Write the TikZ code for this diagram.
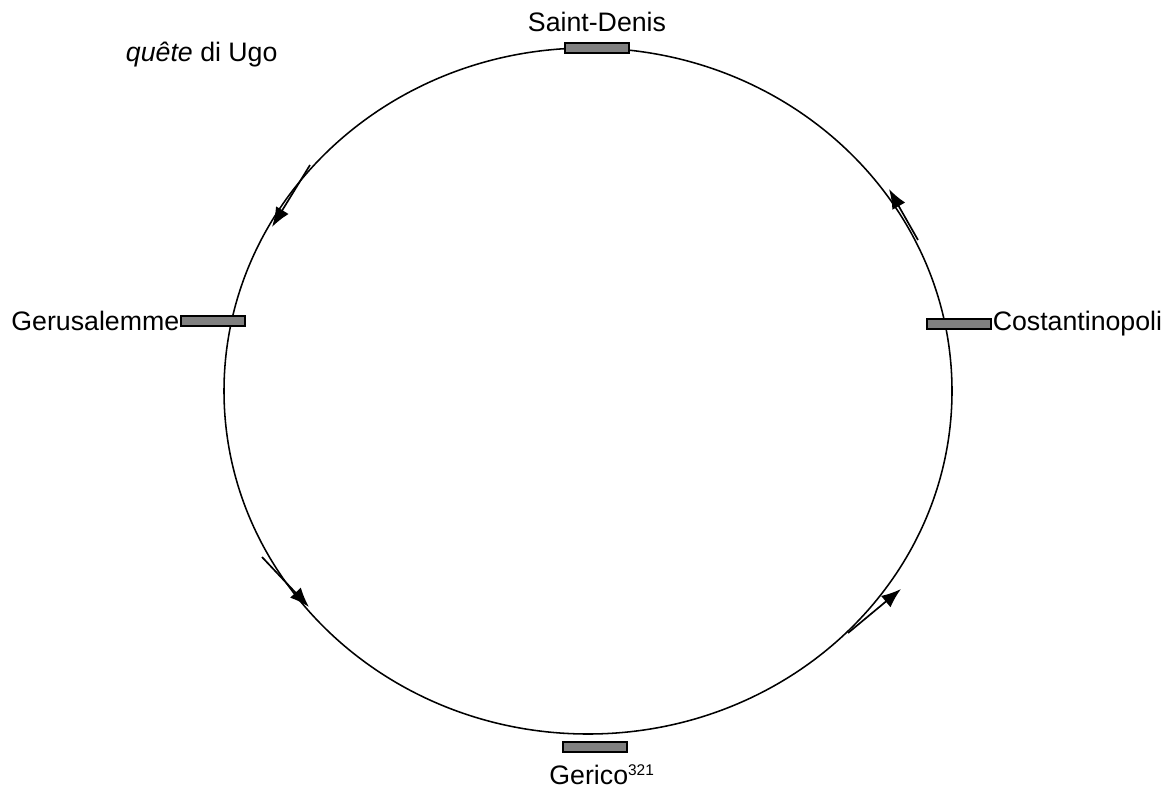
\documentclass[tikz,border=0pt]{standalone}
\usepackage{fontspec}
\setmainfont{Liberation Sans}
\usetikzlibrary{arrows.meta,positioning}

\begin{document}
\begin{tikzpicture}[x=0.025cm,y=-0.025cm,
   font=\fontsize{19}{22}\selectfont,
   >={Latex[length=14pt,width=10.5pt]},
   tappa/.style={draw,fill=black!50,line width=1.1pt,minimum width=64*0.025cm,minimum height=10*0.025cm,inner sep=0pt},
   verso/.style={->,line width=1.2pt}]
  \useasboundingbox (0,0) rectangle (1176,796);
  % percorso
  \draw[line width=1.1pt] (588,391) ellipse (364 and 343);
  % tappe
  \node[tappa] (sd) at (597,48) {};
  \node[tappa] (ge) at (213,321) {};
  \node[tappa] (co) at (959,324) {};
  \node[tappa] (gr) at (595,747) {};
  \node[above=4pt of sd] (sdlab) {Saint-Denis};
  \node[left=0pt of ge,inner sep=0.5pt] (gelab) {Gerusalemme};
  \node[right=0pt of co,inner sep=0.5pt] (colab) {Costantinopoli};
  \node[below=5pt of gr,xshift=5pt] (grlab) {Gerico\textsuperscript{\fontsize{11}{12}\selectfont 321}};
  \node[anchor=west] (titolo) at (121,55) {\textit{quête} di Ugo};
  % frecce
  \coordinate (a1) at (310,165); \coordinate (b1) at (272,227);
  \coordinate (a2) at (918,240); \coordinate (b2) at (889,189);
  \coordinate (a3) at (262,557); \coordinate (b3) at (309,607);
  \coordinate (a4) at (848,633); \coordinate (b4) at (901,589);
  \draw[verso] (a1) -- (b1);
  \draw[verso] (a2) -- (b2);
  \draw[verso] (a3) -- (b3);
  \draw[verso] (a4) -- (b4);
\end{tikzpicture}
\end{document}
